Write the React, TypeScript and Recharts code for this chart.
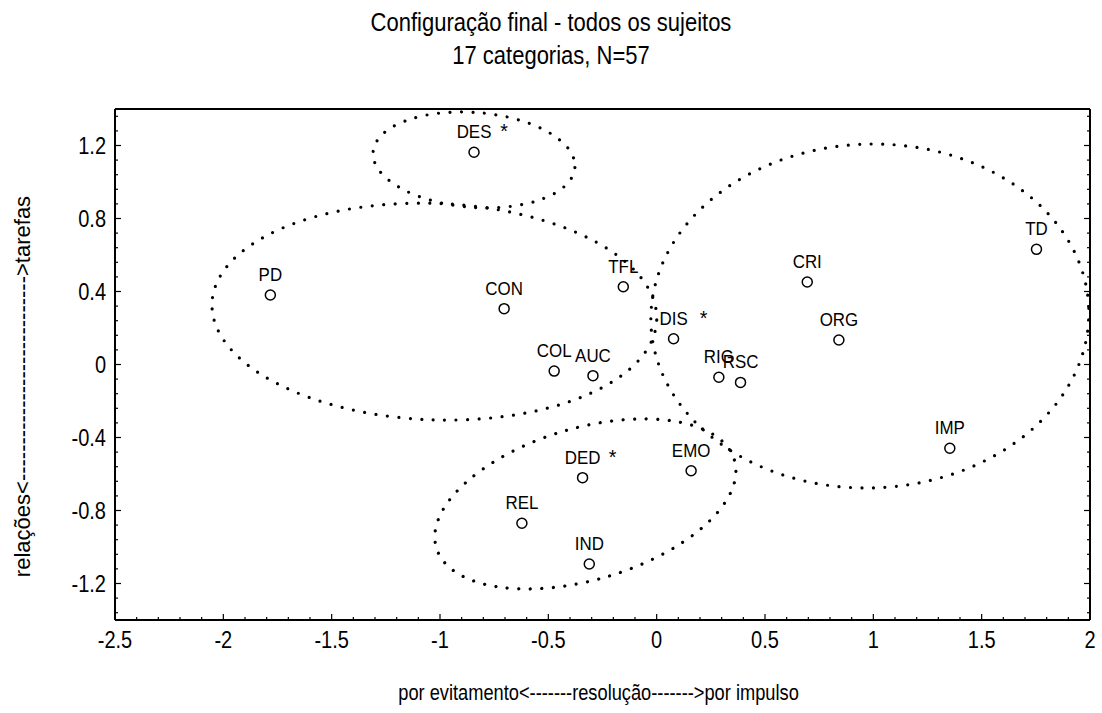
import React from 'react';
import { ScatterChart, Scatter, XAxis, YAxis, ReferenceArea, Label } from 'recharts';

const categories = ['DES', 'PD', 'CON', 'TFL', 'DIS', 'CRI', 'TD', 'ORG', 'COL', 'AUC', 'RIG', 'RSC', 'IMP', 'DED', 'EMO', 'REL', 'IND'];
const dim1 = [-0.843, -1.783, -0.704, -0.154, 0.078, 0.695, 1.753, 0.841, -0.473, -0.294, 0.287, 0.387, 1.353, -0.342, 0.159, -0.622, -0.311];
const dim2 = [1.163, 0.381, 0.306, 0.426, 0.141, 0.452, 0.631, 0.134, -0.036, -0.061, -0.07, -0.098, -0.459, -0.62, -0.582, -0.87, -1.093];
const starred = ['DES', 'DIS', 'DED'];

const xTicks = [-2.5, -2, -1.5, -1, -0.5, 0, 0.5, 1, 1.5, 2];
const yTicks = [-1.2, -0.8, -0.4, 0, 0.4, 0.8, 1.2];
const xDomain = [-2.5, 2];
const yDomain = [-1.4, 1.4];

// dotted group outlines: centre, half-axes (data units), tilt in degrees
const groupCx = [-0.843, -1.026, 0.984, -0.329];
const groupCy = [1.121, 0.29, 0.266, -0.764];
const groupRx = [0.467, 1.027, 1.011, 0.717];
const groupRy = [0.26, 0.593, 0.942, 0.416];
const groupTilt = [4.4, 2.2, -2, -16.4];

const FONT = '"Liberation Sans", Arial, Helvetica, sans-serif';

const points = categories.map((name, i) => ({ name, x: dim1[i], y: dim2[i], star: starred.includes(name) }));

// minor ticks: split each major step into `parts`, fill the whole domain
function withMinor(major: number[], parts: number, lo: number, hi: number) {
  const step = (major[1] - major[0]) / parts;
  const start = major[0] - Math.floor((major[0] - lo) / step + 1e-9) * step;
  const out: number[] = [];
  for (let k = 0; start + k * step <= hi + 1e-9; k++) {
    out.push(Math.round((start + k * step) * 1000) / 1000);
  }
  return out;
}

const xAll = withMinor(xTicks, 5, xDomain[0], xDomain[1]);
const yAll = withMinor(yTicks, 5, yDomain[0], yDomain[1]);

const isMajor = (v: number, majors: number[]) => majors.some((m) => Math.abs(m - v) < 1e-6);
const fmt = (v: number) => (Math.abs(v) < 1e-9 ? '0' : String(v));

// the scanned original is a bit taller than wide, so text is drawn narrow
function NarrowText({ x, y, size, sx, anchor = 'middle', children }: any) {
  return (
    <text
      transform={`translate(${x} ${y}) scale(${sx} 1)`}
      textAnchor={anchor}
      fontSize={size}
      fontFamily={FONT}
      fill="#000"
    >
      {children}
    </text>
  );
}

function BottomTick({ x, y, payload }: any) {
  const major = isMajor(payload.value, xTicks);
  return (
    <g>
      <line x1={x} x2={x} y1={y} y2={y - (major ? 6 : 3)} stroke="#000" strokeWidth={1.2} />
      {major && (
        <NarrowText x={x} y={y + 28} size={23} sx={0.87}>
          {fmt(payload.value)}
        </NarrowText>
      )}
    </g>
  );
}

function TopTick({ x, y, payload }: any) {
  const major = isMajor(payload.value, xTicks);
  return <line x1={x} x2={x} y1={y} y2={y + (major ? 6 : 3)} stroke="#000" strokeWidth={1.2} />;
}

function LeftTick({ x, y, payload }: any) {
  const major = isMajor(payload.value, yTicks);
  return (
    <g>
      <line x1={x} x2={x + (major ? 6 : 3)} y1={y} y2={y} stroke="#000" strokeWidth={1.2} />
      {major && (
        <NarrowText x={x - 9} y={y + 8} size={23} sx={0.87} anchor="end">
          {fmt(payload.value)}
        </NarrowText>
      )}
    </g>
  );
}

function RightTick({ x, y, payload }: any) {
  const major = isMajor(payload.value, yTicks);
  return <line x1={x} x2={x - (major ? 6 : 3)} y1={y} y2={y} stroke="#000" strokeWidth={1.2} />;
}

function DottedEllipse({ x, y, width, height, tilt, clipPath }: any) {
  const cx = x + width / 2;
  const cy = y + height / 2;
  return (
    <ellipse
      cx={cx}
      cy={cy}
      rx={Math.abs(width) / 2}
      ry={Math.abs(height) / 2}
      transform={`rotate(${tilt} ${cx} ${cy})`}
      clipPath={clipPath}
      fill="none"
      stroke="#000"
      strokeWidth={3.2}
      strokeDasharray="0 11.5"
      strokeLinecap="round"
    />
  );
}

function PointMark({ cx, cy, payload }: any) {
  return (
    <g>
      <circle cx={cx} cy={cy} r={5} fill="#fff" stroke="#000" strokeWidth={1.5} />
      <NarrowText x={cx} y={cy - 14} size={18} sx={0.94}>
        {payload.name}
      </NarrowText>
      {payload.star && (
        <NarrowText x={cx + 30} y={cy - 14} size={21} sx={0.94}>
          *
        </NarrowText>
      )}
    </g>
  );
}

const titleStyle: React.CSSProperties = {
  position: 'absolute',
  left: 0,
  width: 1102,
  textAlign: 'center',
  fontSize: 25,
  lineHeight: '30px',
  transform: 'scaleX(0.88)',
  transformOrigin: '551px 50%',
};

export default function App() {
  return (
    <div style={{ position: 'absolute', left: 0, top: 0, width: 1102, height: 713, background: '#fff', fontFamily: FONT }}>
      <div style={{ ...titleStyle, top: 7 }}>Configuração final - todos os sujeitos</div>
      <div style={{ ...titleStyle, top: 40 }}>17 categorias, N=57</div>
      <ScatterChart width={1102} height={713} margin={{ top: 108, right: 11, bottom: 0, left: 0 }}>
        <XAxis
          type="number"
          dataKey="x"
          domain={xDomain}
          ticks={xAll}
          interval={0}
          allowDataOverflow
          tickSize={0}
          tickMargin={0}
          tickLine={false}
          axisLine={{ stroke: '#000', strokeWidth: 2 }}
          tick={<BottomTick />}
          height={93}
        >
          <Label
            content={({ viewBox }: any) => (
              <NarrowText x={viewBox.x + viewBox.width / 2 - 4} y={viewBox.y + 80} size={22} sx={0.83}>
                por evitamento&lt;-------resolução-------&gt;por impulso
              </NarrowText>
            )}
          />
        </XAxis>
        <XAxis
          xAxisId="top"
          orientation="top"
          type="number"
          domain={xDomain}
          ticks={xAll}
          interval={0}
          allowDataOverflow
          tickSize={0}
          tickMargin={0}
          tickLine={false}
          axisLine={{ stroke: '#000', strokeWidth: 2 }}
          tick={<TopTick />}
          height={1}
        />
        <YAxis
          type="number"
          dataKey="y"
          domain={yDomain}
          ticks={yAll}
          interval={0}
          allowDataOverflow
          tickSize={0}
          tickMargin={0}
          tickLine={false}
          axisLine={{ stroke: '#000', strokeWidth: 2 }}
          tick={<LeftTick />}
          width={115}
        >
          <Label
            content={({ viewBox }: any) => {
              const cy = viewBox.y + viewBox.height / 2 + 22;
              return (
                <text x={30} y={cy} transform={`rotate(-90 30 ${cy})`} textAnchor="middle" fontSize={22} fontFamily={FONT} fill="#000">
                  relações&lt;----------------------------&gt;tarefas
                </text>
              );
            }}
          />
        </YAxis>
        <YAxis
          yAxisId="right"
          orientation="right"
          type="number"
          domain={yDomain}
          ticks={yAll}
          interval={0}
          allowDataOverflow
          tickSize={0}
          tickMargin={0}
          tickLine={false}
          axisLine={{ stroke: '#000', strokeWidth: 2 }}
          tick={<RightTick />}
          width={1}
        />
        {groupCx.map((gx, i) => (
          <ReferenceArea
            key={`g${i}`}
            x1={gx - groupRx[i]}
            x2={gx + groupRx[i]}
            y1={groupCy[i] - groupRy[i]}
            y2={groupCy[i] + groupRy[i]}
            ifOverflow="hidden"
            shape={(p: any) => <DottedEllipse {...p} tilt={groupTilt[i]} />}
          />
        ))}
        <Scatter data={points} isAnimationActive={false} shape={(p: any) => <PointMark {...p} />} />
      </ScatterChart>
    </div>
  );
}
